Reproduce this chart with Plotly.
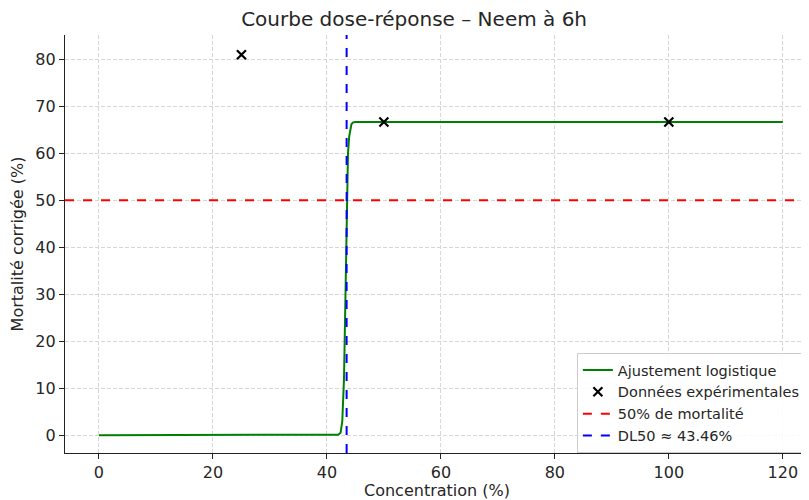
import plotly.graph_objects as go

# Experimental data
conc_points = [25, 50, 100]
mort_points = [81.0, 66.67, 66.67]

fit_x = [0, 20, 40, 42.0, 42.4, 42.7, 43.0, 43.2, 43.46, 43.7, 43.9, 44.1, 44.3, 44.6, 45, 60, 80, 100, 120]
fit_y = [0, 0, 0, 0.1, 0.5, 3.0, 12.0, 28.0, 50.0, 60.0, 63.5, 65.3, 66.2, 66.6, 66.67, 66.67, 66.67, 66.67, 66.67]

mortality_ref = 50
dl50 = 43.46

x_ticks = [0, 20, 40, 60, 80, 100, 120]
y_ticks = [0, 10, 20, 30, 40, 50, 60, 70, 80]

FONT = "DejaVu Sans"
TXT = "#262626"

fig = go.Figure()
fig.add_trace(go.Scatter(x=fit_x, y=fit_y, mode="lines", name="Ajustement logistique",
                         line=dict(color="green", width=2)))
fig.add_trace(go.Scatter(x=conc_points, y=mort_points, mode="markers", name="Données expérimentales",
                         marker=dict(symbol="x-thin", size=9, line=dict(color="black", width=2.2), color="black")))
fig.add_hline(y=mortality_ref, line=dict(color="red", dash="dash", width=2),
              showlegend=True, name="50% de mortalité")
fig.add_vline(x=dl50, line=dict(color="blue", dash="dash", width=2),
              showlegend=True, name="DL50 ≈ 43.46%")

axis_common = dict(
    showline=True, linecolor="#222", linewidth=1.3, mirror=False,
    ticks="outside", ticklen=5, tickcolor="#222", tickwidth=1,
    showgrid=True, gridcolor="#d6d6d6", gridwidth=0.8, griddash="4px,2px",
    zeroline=False, tickfont=dict(family=FONT, size=16, color=TXT),
)

fig.update_layout(
    width=801, height=492,
    margin=dict(l=57, r=0, t=27, b=47),
    plot_bgcolor="white", paper_bgcolor="white",
    font=dict(family=FONT, color=TXT),
    title=dict(text="Courbe dose-réponse – Neem à 6h", x=0.507, xanchor="center",
               y=0.978, yanchor="middle", font=dict(family=FONT, size=20, color=TXT)),
    xaxis=dict(range=[-5.96, 124.6], tickvals=x_ticks,
               title=dict(text="Concentration (%)", font=dict(family=FONT, size=16, color=TXT), standoff=4),
               **axis_common),
    yaxis=dict(range=[-3.8, 85.2], tickvals=y_ticks,
               title=dict(text="Mortalité corrigée (%)", font=dict(family=FONT, size=16, color=TXT), standoff=8),
               **axis_common),
    legend=dict(x=0.688, y=0.0, xanchor="left", yanchor="bottom",
                bgcolor="rgba(255,255,255,0.85)", bordercolor="#cccccc", borderwidth=1,
                font=dict(family=FONT, size=14.5, color=TXT), tracegroupgap=0, itemwidth=30),
    showlegend=True,
)

fig.write_html("out.html")
